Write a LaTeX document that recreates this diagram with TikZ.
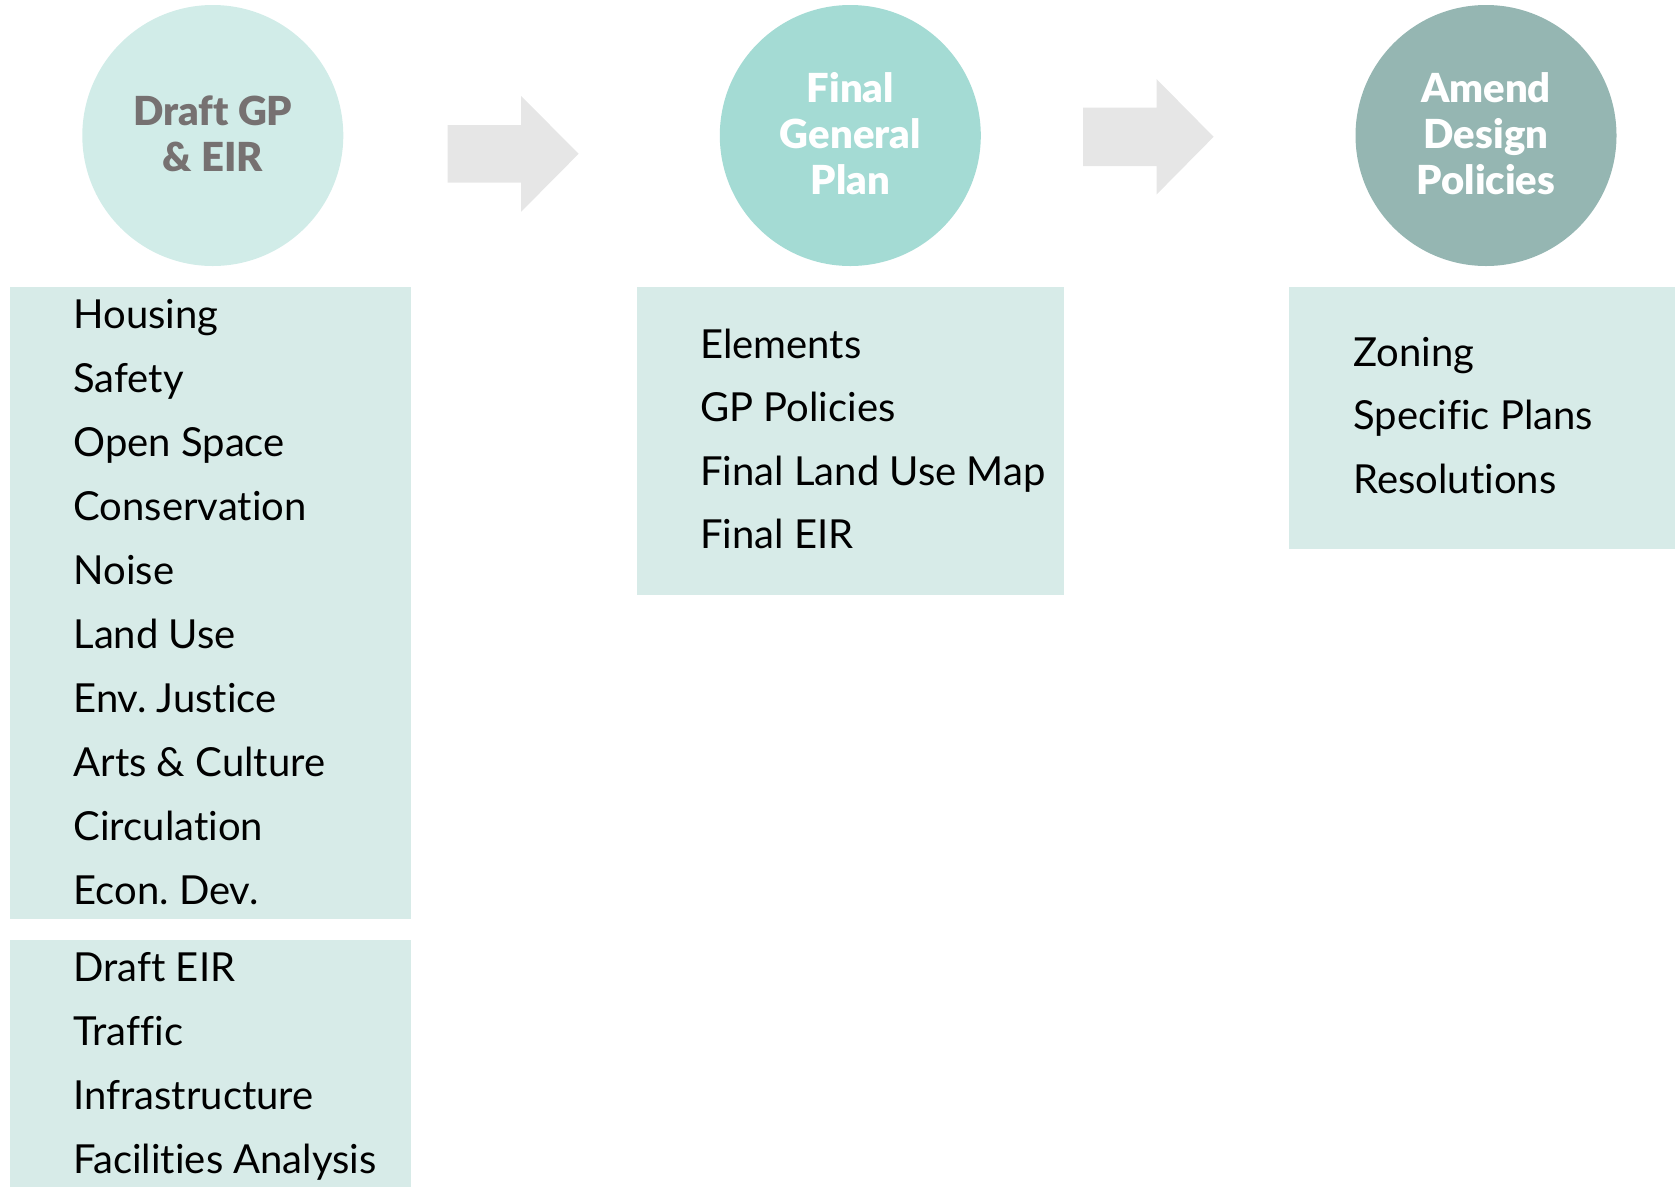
\documentclass[tikz,border=0pt]{standalone}
\usepackage{fontspec}
\setmainfont[Ligatures=NoCommon]{Lato}
\newfontfamily\titlefont[Ligatures=NoCommon]{Lato Black}
\frenchspacing
\definecolor{paleteal}{HTML}{D1ECE8}
\definecolor{midteal}{HTML}{A4DBD4}
\definecolor{greyteal}{HTML}{95B6B2}
\definecolor{listfill}{HTML}{D7EBE8}
\definecolor{arrowfill}{HTML}{E6E6E6}
\definecolor{titlegrey}{HTML}{767171}
\newcommand{\lastdepth}{\rule[-4.3pt]{0pt}{0pt}}
\tikzset{
  stage/.style={circle, minimum size=261pt, inner sep=0pt, align=center,
    font=\titlefont\fontsize{40}{46}\selectfont},
  listbox/.style={fill=listfill, inner sep=0pt, anchor=north west},
  item/.style={anchor=base west, inner sep=0pt, font=\fontsize{40}{46}\selectfont},
}
\begin{document}
\begin{tikzpicture}[x=1pt,y=-1pt]
\useasboundingbox (0,0) rectangle (1675,1187);

% stage circles
\node[stage, fill=paleteal, text=titlegrey] (c1) at (212.8,135.5) {Draft GP\\\& EIR\lastdepth};
\node[stage, fill=midteal, text=white] (c2) at (850.3,135.5) {Final\\General\\Plan\lastdepth};
\node[stage, fill=greyteal, text=white] (c3) at (1486,135.5) {Amend\\Design\\Policies\lastdepth};

% block arrows between stages
\fill[arrowfill] (447.7,125) -- (521.2,125) -- (521.2,96) -- (578.6,153.8)
  -- (521.2,211.7) -- (521.2,182.7) -- (447.7,182.7) -- cycle;
\fill[arrowfill] (1083,107.7) -- (1156.5,107.7) -- (1156.5,79) -- (1213.6,136.8)
  -- (1156.5,194.6) -- (1156.5,166) -- (1083,166) -- cycle;

% list panels
\node[listbox, minimum width=401.4pt, minimum height=632pt] (b1) at (9.6,286.7) {};
\node[listbox, minimum width=401.4pt, minimum height=247pt] (b2) at (9.6,940) {};
\node[listbox, minimum width=427.7pt, minimum height=308.3pt] (b3) at (636.3,286.7) {};
\node[listbox, minimum width=386pt, minimum height=261.6pt] (b4) at (1289,286.7) {};

% draft general plan elements
\node[item] (i1) at (73.3,328.3) {Housing};
\node[item] (i2) at (73.3,392.3) {Safety};
\node[item] (i3) at (73.3,456.3) {Open Space};
\node[item] (i4) at (73.3,520.3) {Conservation};
\node[item] (i5) at (73.3,584.3) {Noise};
\node[item] (i6) at (73.3,648.3) {Land Use};
\node[item] (i7) at (73.3,712.3) {Env. Justice};
\node[item] (i8) at (73.3,776.3) {Arts \& Culture};
\node[item] (i9) at (73.3,840.3) {Circulation};
\node[item] (i10) at (73.3,904.3) {Econ. Dev.};

% draft EIR studies
\node[item] (e1) at (73.3,981.7) {Draft EIR};
\node[item] (e2) at (73.3,1045.7) {Traffic};
\node[item] (e3) at (73.3,1109.7) {Infrastructure};
\node[item] (e4) at (73.3,1173.7) {Facilities Analysis};

% final general plan contents
\node[item] (f1) at (700,358.3) {Elements};
\node[item] (f2) at (700,421.8) {GP Policies};
\node[item] (f3) at (700,485.3) {Final Land Use Map};
\node[item] (f4) at (700,548.8) {Final EIR};

% amendments
\node[item] (a1) at (1353.3,366) {Zoning};
\node[item] (a2) at (1353.3,429.7) {Specific Plans};
\node[item] (a3) at (1353.3,493.4) {Resolutions};
\end{tikzpicture}
\end{document}
